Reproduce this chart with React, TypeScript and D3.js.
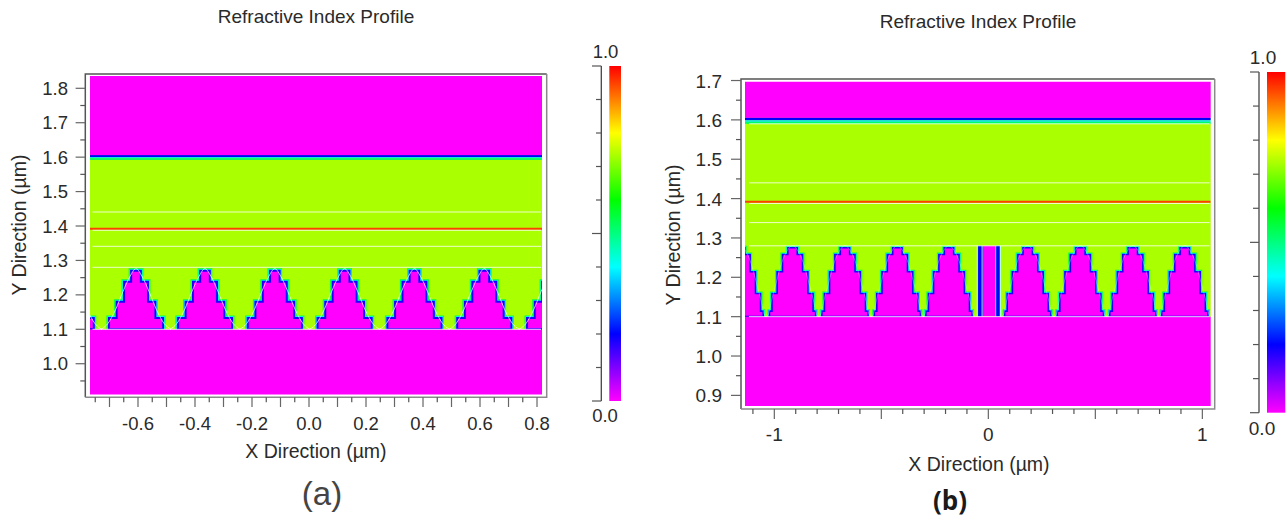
import React from "react";
import * as d3 from "d3";

// Colour scale stops
const colourStops = [0, 0.2, 0.4, 0.6, 0.8, 1];
const colourValues = ["#ff00ff", "#0000ff", "#00ffff", "#00ff00", "#ffff00", "#ff0000"];
const barTicks = [0, 0.1, 0.2, 0.3, 0.4, 0.5, 0.6, 0.7, 0.8, 0.9, 1];

// Index values
const indexSubstrate = 0;
const indexFilm = 0.733;
const indexBlue = 0.2;
const indexCyan = 0.38;
const indexTeal = 0.52;
const indexRed = 0.95;

// Panel (a)
const peaksA = [-0.85, -0.607, -0.365, -0.12, 0.125, 0.37, 0.615, 0.86];
const levelsA = [1.1, 1.133, 1.18, 1.238, 1.27];
const halfWidthsA = [0.095, 0.068, 0.042, 0.017];
const whiteLinesA = [1.4407, 1.3875, 1.341, 1.28, 1.1];
const yTicksMajorA = [1.0, 1.1, 1.2, 1.3, 1.4, 1.5, 1.6, 1.7, 1.8];
const yTicksMinorA = [0.95, 1.05, 1.15, 1.25, 1.35, 1.45, 1.55, 1.65, 1.75];
const xTicksMajorA = [-0.7, -0.6, -0.5, -0.4, -0.3, -0.2, -0.1, 0, 0.1, 0.2, 0.3, 0.4, 0.5, 0.6, 0.7, 0.8];
const xTicksMinorA = [-0.75, -0.65, -0.55, -0.45, -0.35, -0.25, -0.15, -0.05, 0.05, 0.15, 0.25, 0.35, 0.45, 0.55, 0.65, 0.75];
const xLabelsA = [-0.6, -0.4, -0.2, 0, 0.2, 0.4, 0.6, 0.8];
const bandsA = [1.606, 1.6, 1.597, 1.592];

// Panel (b)
const peaksB = [-1.16, -0.915, -0.67, -0.425, -0.184, 0.184, 0.43, 0.675, 0.918];
const levelsB = [1.1, 1.114, 1.159, 1.214, 1.258, 1.275];
const halfWidthsB = [0.108, 0.096, 0.072, 0.047, 0.022];
const slotB = [-0.04, 0.045];
const whiteLinesB = [1.59, 1.44, 1.3875, 1.339, 1.28, 1.1];
const yTicksMajorB = [0.9, 1.0, 1.1, 1.2, 1.3, 1.4, 1.5, 1.6, 1.7];
const yTicksMinorB = [0.95, 1.05, 1.15, 1.25, 1.35, 1.45, 1.55, 1.65];
const xTicksMajorB = [-1, -0.5, 0, 0.5, 1];
const xTicksMinorB = [-1.1, -0.9, -0.8, -0.7, -0.6, -0.4, -0.3, -0.2, -0.1, 0.1, 0.2, 0.3, 0.4, 0.6, 0.7, 0.8, 0.9];
const xLabelsB = [-1, 0, 1];
const bandsB = [1.605, 1.599, 1.595, 1.59];

const period = 0.245;
const redLine = 1.392;
const titleText = "Refractive Index Profile";
const xTitle = "X Direction (\u00b5m)";
const yTitle = "Y Direction (\u00b5m)";

const colour = d3.scaleLinear<string>().domain(colourStops).range(colourValues).interpolate(d3.interpolateRgb);
const INK = "#2a2a2a";
const FONT = "'Liberation Sans', Arial, sans-serif";

type P = {
  id: string;
  xDomain: [number, number]; xRange: [number, number];
  yDomain: [number, number]; yRange: [number, number];
  frame: { l: number; r: number; t: number; b: number };
  peaks: number[]; levels: number[]; halfWidths: number[];
  slot?: number[]; white: number[]; bands: number[];
  yMajor: number[]; yMinor: number[]; xMajor: number[]; xMinor: number[]; xLabels: number[];
  yFormat: (v: number) => string; xFormat: (v: number) => string;
  font: number; tickLong: number; tickShort: number;
  yLabelX: number; yLabelDy: number; xLabelY: number;
  title: [number, number]; xT: [number, number]; yT: [number, number]; titleFont: number; axisFont: number;
  whiteInset: number; strokeW: number[]; curveOpacity: number; blur: number;
};

function toothPoints(c: number, levels: number[], hw: number[]): [number, number][] {
  const left: [number, number][] = [];
  const right: [number, number][] = [];
  hw.forEach((h, i) => {
    left.push([c - h, levels[i]], [c - h, levels[i + 1]]);
    right.unshift([c + h, levels[i + 1]], [c + h, levels[i]]);
  });
  return [...left, ...right];
}

function smoothPoints(c: number, levels: number[], hw: number[]): [number, number][] {
  const left: [number, number][] = [[c - period / 2, levels[0]]];
  const right: [number, number][] = [[c + period / 2, levels[0]]];
  hw.forEach((h, i) => {
    const m = (levels[i] + levels[i + 1]) / 2;
    left.push([c - h - 0.004, m]);
    right.unshift([c + h + 0.004, m]);
  });
  return [...left, [c, levels[levels.length - 1] + 0.006], ...right];
}

function Panel(p: P) {
  const x = d3.scaleLinear().domain(p.xDomain).range(p.xRange);
  const y = d3.scaleLinear().domain(p.yDomain).range(p.yRange);
  const [x0, x1] = p.xRange;
  const [y0, y1] = p.yRange;
  const line = d3.line<[number, number]>().x((d) => x(d[0])).y((d) => y(d[1]));
  const smooth = d3.line<[number, number]>().x((d) => x(d[0])).y((d) => y(d[1])).curve(d3.curveMonotoneX);
  const teeth = p.peaks.map((c) => line(toothPoints(c, p.levels, p.halfWidths)) + "Z");
  const slotTop = 1.28;
  const { l, r, t, b } = p.frame;
  const base = p.levels[0];
  const bandIdx = [indexBlue, indexCyan, indexTeal];
  return (
    <g>
      <clipPath id={"clip" + p.id}>
        <rect x={x0} y={y1} width={x1 - x0} height={y0 - y1} />
      </clipPath>
      <filter id={"soft" + p.id} x="-2%" y="-2%" width="104%" height="104%">
        <feGaussianBlur stdDeviation={p.blur} />
      </filter>
      <text x={p.title[0]} y={p.title[1]} textAnchor="middle" fontSize={p.titleFont} fill={INK} fontFamily={FONT}>{titleText}</text>
      <g clipPath={`url(#clip${p.id})`}>
        <g filter={`url(#soft${p.id})`}>
          <rect x={x0 - 4} y={y1 - 4} width={x1 - x0 + 8} height={y0 - y1 + 8} fill={colour(indexFilm)} />
          <rect x={x0 - 4} y={y1 - 4} width={x1 - x0 + 8} height={y(p.bands[0]) - y1 + 4} fill={colour(indexSubstrate)} />
          {bandIdx.map((v, i) => (
            <rect key={v} x={x0 - 4} y={y(p.bands[i])} width={x1 - x0 + 8} height={y(p.bands[i + 1]) - y(p.bands[i])} fill={colour(v)} />
          ))}
          {teeth.map((d, i) => <path key={"g" + i} d={d} fill="none" stroke={colour(0.55)} strokeWidth={p.strokeW[0]} />)}
          {teeth.map((d, i) => <path key={"c" + i} d={d} fill="none" stroke={colour(0.4)} strokeWidth={p.strokeW[1]} />)}
          {teeth.map((d, i) => <path key={"m" + i} d={d} fill={colour(indexSubstrate)} stroke={colour(0.18)} strokeWidth={p.strokeW[2]} />)}
          {p.slot && (
            <g>
              <rect x={x(p.slot[0])} y={y(slotTop)} width={x(p.slot[1]) - x(p.slot[0])} height={y(base) - y(slotTop)} fill={colour(indexSubstrate)} />
              {p.slot.map((v) => (
                <g key={v}>
                  <line x1={x(v)} x2={x(v)} y1={y(slotTop)} y2={y(base)} stroke={colour(0.45)} strokeWidth={5.5} />
                  <line x1={x(v)} x2={x(v)} y1={y(slotTop)} y2={y(base)} stroke={colour(0.2)} strokeWidth={3.4} />
                </g>
              ))}
            </g>
          )}
          <rect x={x0 - 4} y={y(base)} width={x1 - x0 + 8} height={y0 - y(base) + 4} fill={colour(indexSubstrate)} />
        </g>
        {p.peaks.map((c, i) => (
          <path key={"s" + i} d={smooth(smoothPoints(c, p.levels, p.halfWidths)) || ""} fill="none" stroke="#fff" strokeOpacity={p.curveOpacity} strokeWidth={1} />
        ))}
        {p.slot && p.slot.map((v, i) => {
          const edge = v + (i === 0 ? -0.012 : 0.012);
          return <path key={v} d={line([[edge, base], [edge, slotTop]]) || ""} fill="none" stroke="#fff" strokeOpacity={0.65} strokeWidth={1} />;
        })}
        <rect x={x0} y={y(redLine) - 1} width={x1 - x0} height={2} fill={colour(indexRed)} />
        {p.white.map((v) => (
          <line key={v} x1={x0 + p.whiteInset} x2={x1 - 1} y1={y(v)} y2={y(v)} stroke="#fff" strokeOpacity={0.8} strokeWidth={1} />
        ))}
      </g>
      {/* frame */}
      <path d={`M${l},${b}V${t}H${r}`} fill="none" stroke="#555" strokeWidth={1.5} />
      <path d={`M${l},${b}H${r}V${t}`} fill="none" stroke="#8a8a8a" strokeWidth={1.5} />
      {/* y ticks */}
      {p.yMajor.map((v) => (
        <g key={v}>
          <line x1={l - p.tickLong} x2={l} y1={y(v)} y2={y(v)} stroke="#666" strokeWidth={1.2} />
          <text x={p.yLabelX} y={y(v) + p.yLabelDy} textAnchor="end" fontSize={p.font} fill={INK} fontFamily={FONT}>{p.yFormat(v)}</text>
        </g>
      ))}
      {p.yMinor.map((v) => <line key={v} x1={l - p.tickShort} x2={l} y1={y(v)} y2={y(v)} stroke="#555" strokeWidth={1.2} />)}
      {/* x ticks */}
      {p.xMajor.map((v) => <line key={v} x1={x(v)} x2={x(v)} y1={b} y2={b + p.tickLong} stroke="#666" strokeWidth={1.2} />)}
      {p.xMinor.map((v) => <line key={v} x1={x(v)} x2={x(v)} y1={b} y2={b + p.tickShort} stroke="#555" strokeWidth={1.2} />)}
      {p.xLabels.map((v) => (
        <text key={v} x={x(v)} y={p.xLabelY} textAnchor="middle" fontSize={p.font} fill={INK} fontFamily={FONT}>{p.xFormat(v)}</text>
      ))}
      <text x={p.xT[0]} y={p.xT[1]} textAnchor="middle" fontSize={p.axisFont} fill={INK} fontFamily={FONT}>{xTitle}</text>
      <text transform={`translate(${p.yT[0]},${p.yT[1]}) rotate(-90)`} textAnchor="middle" fontSize={p.axisFont} fill={INK} fontFamily={FONT}>{yTitle}</text>
    </g>
  );
}

function ColourBar({ id, x, w, top, bottom, axisX, long, short, font, topLabel, botLabel }: any) {
  const s = d3.scaleLinear().domain([0, 1]).range([bottom, top]);
  return (
    <g>
      <linearGradient id={id} x1="0" x2="0" y1="1" y2="0">
        {colourStops.map((c, i) => <stop key={c} offset={c} stopColor={colourValues[i]} />)}
      </linearGradient>
      <rect x={x} y={top} width={w} height={bottom - top} fill={`url(#${id})`} />
      <line x1={axisX} x2={axisX} y1={top} y2={bottom} stroke="#444" strokeWidth={1.3} />
      {barTicks.map((v) => {
        const isLong = v === 0 || v === 0.5 || v === 1;
        return <line key={v} x1={axisX - (isLong ? long : short)} x2={axisX} y1={s(v)} y2={s(v)} stroke="#555" strokeWidth={1.2} />;
      })}
      <text x={topLabel[0]} y={topLabel[1]} textAnchor="middle" fontSize={font} fill={INK} fontFamily={FONT}>1.0</text>
      <text x={botLabel[0]} y={botLabel[1]} textAnchor="middle" fontSize={font} fill={INK} fontFamily={FONT}>0.0</text>
    </g>
  );
}

export default function App() {
  const f1 = (v: number) => v.toFixed(1);
  const f0 = (v: number) => v.toFixed(0);
  return (
    <svg width={1288} height={518} style={{ position: "absolute", left: 0, top: 0, background: "#fff" }}>
      <Panel
        id="a"
        xDomain={[-0.7684, 0.8175]} xRange={[90, 542]}
        yDomain={[0.9106, 1.8357]} yRange={[394.5, 76]}
        frame={{ l: 85.3, r: 546.7, t: 74, b: 397.3 }}
        peaks={peaksA} levels={levelsA} halfWidths={halfWidthsA}
        white={whiteLinesA} bands={bandsA}
        yMajor={yTicksMajorA} yMinor={yTicksMinorA} xMajor={xTicksMajorA} xMinor={xTicksMinorA} xLabels={xLabelsA}
        yFormat={f1} xFormat={f1}
        font={18.5} tickLong={9.7} tickShort={5}
        yLabelX={68} yLabelDy={6.5} xLabelY={430}
        title={[316, 23]} xT={[316, 458]} yT={[26, 225]} titleFont={19} axisFont={19.5}
        whiteInset={2.5} strokeW={[5, 3.2, 2]} curveOpacity={0.7} blur={0.45}
      />
      <ColourBar id="barA" x={609.3} w={11.7} top={66} bottom={401} axisX={601.3} long={9.3} short={5.3} font={18.5}
        topLabel={[605.5, 58]} botLabel={[605, 422]} />
      <Panel
        id="b"
        xDomain={[-1.137, 1.039]} xRange={[745, 1210.7]}
        yDomain={[0.873, 1.697]} yRange={[406, 81.7]}
        frame={{ l: 741, r: 1214.7, t: 79, b: 409 }}
        peaks={peaksB} levels={levelsB} halfWidths={halfWidthsB} slot={slotB}
        white={whiteLinesB} bands={bandsB}
        yMajor={yTicksMajorB} yMinor={yTicksMinorB} xMajor={xTicksMajorB} xMinor={xTicksMinorB} xLabels={xLabelsB}
        yFormat={f1} xFormat={f0}
        font={19} tickLong={10} tickShort={5}
        yLabelX={722} yLabelDy={7} xLabelY={441}
        title={[978, 28]} xT={[979, 471]} yT={[680, 235]} titleFont={19} axisFont={19.5}
        whiteInset={4} strokeW={[4, 2.6, 1.6]} curveOpacity={0.3} blur={0.55}
      />
      <ColourBar id="barB" x={1267} w={18.3} top={72} bottom={412.7} axisX={1259} long={9} short={6} font={19}
        topLabel={[1263, 64]} botLabel={[1262, 435]} />
      <text x={322} y={505} textAnchor="middle" fontSize={33} fill="#444" fontFamily={FONT}>(a)</text>
      <text x={950} y={510} textAnchor="middle" fontSize={26} fontWeight={700} fill="#1a1a1a" fontFamily="'Open Sans', sans-serif">(b)</text>
    </svg>
  );
}
